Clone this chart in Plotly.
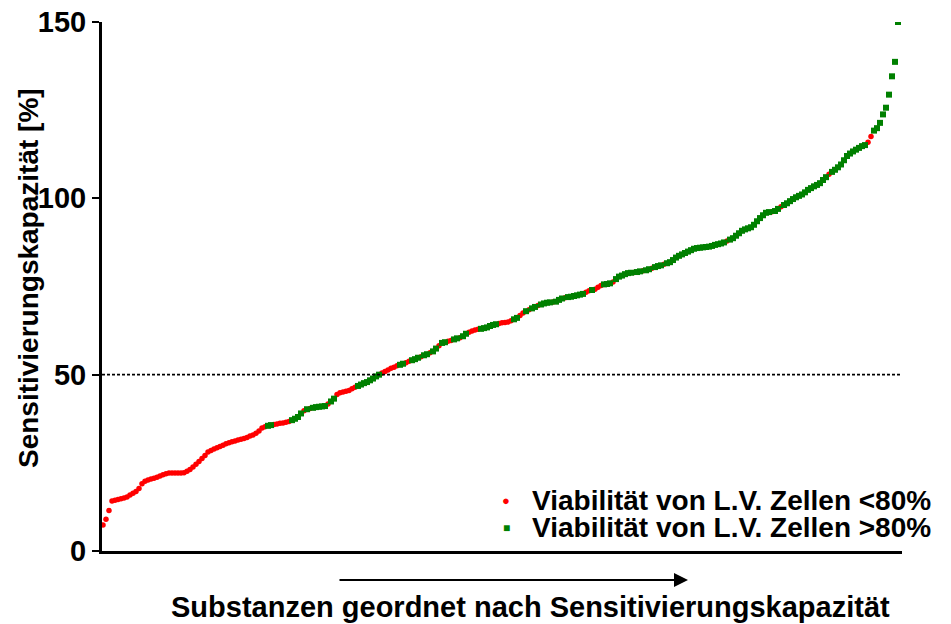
import plotly.graph_objects as go

# Sensitivierungskapazität [%], sorted ascending (one value per substance)
sensitivity = [
    7.4, 9.0, 11.5, 14.2, 14.4, 14.6, 14.8, 15.0, 15.3, 15.9,
    16.4, 16.9, 17.7, 19.1, 19.8, 20.1, 20.4, 20.6, 20.9, 21.3,
    21.6, 21.9, 22.1, 22.1, 22.1, 22.1, 22.1, 22.2, 22.6, 23.1,
    23.8, 24.6, 25.4, 26.2, 27.1, 28.1, 28.5, 28.9, 29.3, 29.6,
    30.0, 30.4, 30.7, 31.0, 31.2, 31.5, 31.7, 31.9, 32.2, 32.6,
    32.9, 33.4, 34.0, 34.9, 35.2, 35.5, 35.7, 35.9, 36.0, 36.2,
    36.3, 36.5, 36.7, 37.1, 37.5, 38.0, 39.0, 39.8, 40.2, 40.4,
    40.6, 40.8, 40.9, 41.0, 41.1, 41.7, 42.4, 43.2, 44.4, 44.9,
    45.1, 45.3, 45.5, 46.0, 46.4, 46.8, 47.2, 47.6, 47.9, 48.4,
    48.9, 49.5, 50.0, 50.5, 50.9, 51.3, 51.8, 52.1, 52.5, 52.8,
    53.1, 53.4, 53.8, 54.1, 54.4, 54.8, 55.1, 55.5, 55.8, 56.2,
    56.6, 57.4, 58.2, 59.0, 59.2, 59.5, 59.7, 60.0, 60.3, 60.5,
    60.9, 61.6, 62.0, 62.4, 62.7, 62.9, 63.0, 63.2, 63.4, 63.8,
    64.1, 64.3, 64.5, 64.7, 64.8, 64.9, 65.3, 65.7, 66.1, 66.8,
    67.5, 68.0, 68.4, 68.8, 69.2, 69.6, 69.9, 70.2, 70.4, 70.5,
    70.6, 70.7, 71.2, 71.6, 71.8, 72.0, 72.1, 72.3, 72.5, 72.7,
    72.9, 73.4, 73.8, 74.0, 74.2, 74.8, 75.3, 75.6, 75.7, 75.9,
    76.3, 77.1, 77.8, 78.1, 78.5, 78.8, 78.9, 79.0, 79.1, 79.3,
    79.5, 79.6, 79.9, 80.2, 80.5, 80.8, 81.0, 81.3, 81.6, 81.9,
    82.5, 83.2, 83.7, 84.1, 84.5, 84.9, 85.3, 85.7, 85.9, 86.0,
    86.1, 86.2, 86.3, 86.5, 86.8, 87.0, 87.2, 87.5, 87.9, 88.3,
    88.7, 89.4, 90.1, 90.8, 91.2, 91.5, 91.8, 92.5, 93.5, 94.4,
    95.2, 95.9, 96.1, 96.2, 96.4, 97.0, 97.6, 98.1, 98.6, 99.2,
    99.8, 100.3, 100.7, 101.1, 101.7, 102.4, 102.9, 103.4, 103.8, 104.3,
    105.2, 106.0, 106.8, 107.5, 108.1, 108.8, 109.6, 110.8, 112.0, 112.7,
    113.3, 113.8, 114.3, 114.8, 115.1, 115.9, 117.5, 119.2, 119.9, 121.4,
    123.8, 125.7, 129.4, 134.6, 138.7, 150.0,
]

# Viability class per substance: 0 = L.V. viability <80 %, 1 = >80 %
viability_gt80 = [
    0, 0, 0, 0, 0, 0, 0, 0, 0, 0, 0, 0, 0, 0, 0, 0, 0, 0, 0, 0,
    0, 0, 0, 0, 0, 0, 0, 0, 0, 0, 0, 0, 0, 0, 0, 0, 0, 0, 0, 0,
    0, 0, 0, 0, 0, 0, 0, 0, 0, 0, 0, 0, 0, 0, 0, 1, 1, 0, 0, 0,
    0, 0, 0, 1, 1, 1, 1, 0, 1, 0, 1, 1, 1, 1, 1, 0, 1, 1, 0, 0,
    0, 0, 0, 0, 0, 1, 1, 1, 1, 1, 1, 1, 1, 0, 0, 0, 0, 0, 0, 1,
    1, 0, 0, 1, 1, 1, 0, 1, 1, 0, 1, 1, 0, 1, 1, 0, 0, 1, 1, 0,
    1, 1, 0, 0, 0, 0, 1, 1, 1, 1, 1, 1, 0, 0, 0, 0, 0, 1, 1, 0,
    0, 1, 0, 1, 1, 0, 1, 1, 1, 1, 0, 1, 1, 1, 0, 1, 1, 1, 1, 1,
    1, 0, 0, 1, 0, 0, 0, 1, 1, 1, 0, 1, 1, 1, 1, 1, 1, 0, 1, 1,
    0, 1, 1, 0, 1, 1, 1, 0, 1, 1, 1, 1, 1, 1, 1, 1, 1, 1, 1, 1,
    1, 1, 1, 1, 1, 1, 1, 1, 0, 1, 1, 1, 1, 1, 1, 1, 1, 1, 1, 1,
    1, 1, 1, 0, 1, 1, 0, 1, 1, 1, 1, 1, 1, 1, 1, 1, 1, 1, 1, 1,
    1, 1, 0, 1, 1, 1, 1, 1, 1, 1, 1, 1, 1, 1, 1, 0, 0, 1, 1, 1,
    1, 1, 1, 1, 1, 1,
]

y_ticks = [0, 50, 100, 150]
threshold = 50
series_names = ["Viabilität von L.V. Zellen <80%", "Viabilität von L.V. Zellen >80%"]
series_colors = ["#ff0000", "#008000"]
x_title = "Substanzen geordnet nach Sensitivierungskapazität"
y_title = "Sensitivierungskapazität [%]"

rank = list(range(len(sensitivity)))
red_x = [r for r, c in zip(rank, viability_gt80) if c == 0]
red_y = [v for v, c in zip(sensitivity, viability_gt80) if c == 0]
green_x = [r for r, c in zip(rank, viability_gt80) if c == 1]
green_y = [v for v, c in zip(sensitivity, viability_gt80) if c == 1]

FONT = "Liberation Sans, Arial, sans-serif"

fig = go.Figure()
fig.add_trace(go.Scatter(
    x=red_x, y=red_y, mode="markers", name=series_names[0], showlegend=False,
    marker=dict(symbol="circle", size=5.5, color=series_colors[0], line=dict(width=0)),
))
fig.add_trace(go.Scatter(
    x=green_x, y=green_y, mode="markers", name=series_names[1], showlegend=False,
    marker=dict(symbol="square", size=6, color=series_colors[1], line=dict(width=0)),
))

fig.add_hline(y=threshold, line=dict(color="black", width=1.6, dash="3px,2px"))

# the page body adds an 8 px offset, so the figure is 8 px smaller
fig.update_layout(
    width=943, height=616,
    margin=dict(l=94, r=49, t=14, b=73, autoexpand=False),
    plot_bgcolor="white", paper_bgcolor="white",
    font=dict(family=FONT, size=21, color="black", weight="bold"),
    showlegend=False,
    xaxis=dict(
        range=[-0.33, 266.33], showgrid=False, zeroline=False,
        showline=True, linecolor="black", linewidth=3,
        showticklabels=False, ticks="",
    ),
    yaxis=dict(
        range=[0, 150], tickvals=y_ticks, showgrid=False, zeroline=False,
        showline=True, linecolor="black", linewidth=3,
        ticks="outside", ticklen=7, tickwidth=2, tickcolor="black",
        tickfont=dict(size=29, weight="bold"), ticklabeloverflow="allow",
    ),
)

# legend (drawn as annotations to match the compact reference spacing)
legend_rows_y = [0.0964, 0.0435]
legend_glyphs = [
    "<span style='color:#ff0000;font-size:13px'>●</span>",
    "<span style='color:#008000;font-size:12px'>■</span>",
]
for name, glyph, yy in zip(series_names, legend_glyphs, legend_rows_y):
    fig.add_annotation(
        text=glyph, xref="paper", yref="paper", x=0.505, y=yy,
        showarrow=False, xanchor="center", yanchor="middle",
    )
    fig.add_annotation(
        text=name, xref="paper", yref="paper", x=0.535, y=yy,
        showarrow=False, xanchor="left", yanchor="middle",
        font=dict(size=28, weight="bold"),
    )

# y-axis title
fig.add_annotation(
    text=y_title, xref="paper", yref="paper", x=-0.0925, y=0.516,
    textangle=-90, showarrow=False, xanchor="center", yanchor="middle",
    font=dict(size=28, weight="bold"),
)
# arrow under the x axis
fig.add_annotation(
    text="", xref="paper", yref="paper", x=0.7325, y=-0.0548,
    ax=-350, ay=0, showarrow=True, arrowhead=2, arrowsize=1.4,
    arrowwidth=2, arrowcolor="black",
)
# x-axis title
fig.add_annotation(
    text=x_title, xref="paper", yref="paper", x=0.535, y=-0.1059,
    showarrow=False, xanchor="center", yanchor="middle",
    font=dict(size=29, weight="bold"),
)

fig.write_html("out.html")
